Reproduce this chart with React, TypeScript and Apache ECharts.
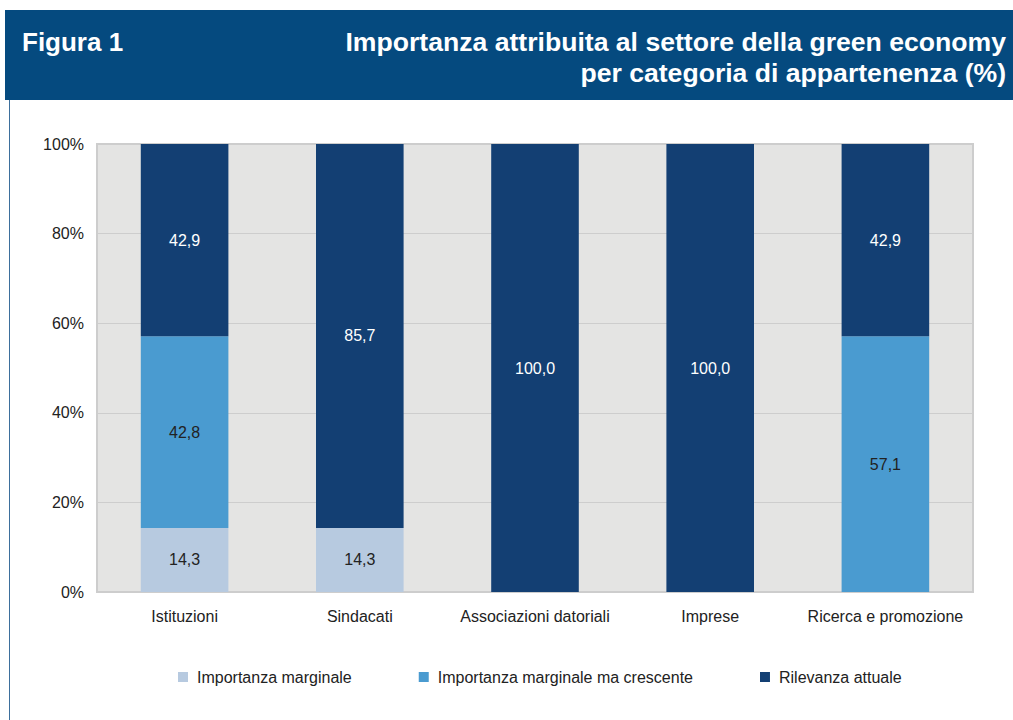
import React, { useEffect, useRef } from "react";
import * as echarts from "echarts";

const categories = ["Istituzioni", "Sindacati", "Associazioni datoriali", "Imprese", "Ricerca e promozione"];
const seriesNames = ["Importanza marginale", "Importanza marginale ma crescente", "Rilevanza attuale"];
const marginale = [14.3, 14.3, 0, 0, 0];
const crescente = [42.8, 0, 0, 0, 57.1];
const attuale = [42.9, 85.7, 100.0, 100.0, 42.9];
const yTicks = [0, 20, 40, 60, 80, 100];

const colors = ["#b7cae0", "#4a9bd0", "#133f73"];
const labelColors = ["#222222", "#222222", "#ffffff"];

export default function App() {
  const ref = useRef<HTMLDivElement>(null);
  useEffect(() => {
    const chart = echarts.init(ref.current!, null, { renderer: "svg" });
    const font = "'Liberation Sans', Arial, sans-serif";
    const headFont = "bold 26px 'Liberation Sans', Arial, sans-serif";
    const titleFont = "bold 26.6px 'Liberation Sans', Arial, sans-serif";
    const datasets = [marginale, crescente, attuale];
    chart.setOption({
      animation: false,
      textStyle: { fontFamily: font },
      graphic: [
        { type: "rect", shape: { x: 5, y: 10, width: 1008, height: 90 }, style: { fill: "#054a7f" } },
        { type: "line", shape: { x1: 9.5, y1: 100, x2: 9.5, y2: 720 }, style: { stroke: "#3d6f9c", lineWidth: 1 } },
        {
          type: "text", x: 22, y: 42,
          style: { text: "Figura 1", fill: "#ffffff", font: headFont, textVerticalAlign: "middle" },
        },
        {
          type: "text", x: 1006, y: 42,
          style: { text: "Importanza attribuita al settore della green economy", fill: "#ffffff", font: titleFont, textAlign: "right", textVerticalAlign: "middle" },
        },
        {
          type: "text", x: 1006, y: 73,
          style: { text: "per categoria di appartenenza (%)", fill: "#ffffff", font: titleFont, textAlign: "right", textVerticalAlign: "middle" },
        },
      ],
      grid: {
        left: 97, right: 40, top: 144, bottom: 128,
        show: true, backgroundColor: "#e4e4e3", borderColor: "#cdcdcd", borderWidth: 2,
      },
      legend: {
        data: seriesNames,
        left: 173, top: 664,
        itemWidth: 10, itemHeight: 10, itemGap: 67,
        icon: "rect",
        textStyle: { fontSize: 16, color: "#222222", fontFamily: font, padding: [0, 0, 0, 4] },
      },
      xAxis: {
        type: "category",
        data: categories,
        axisLine: { show: false },
        axisTick: { show: false },
        axisLabel: { fontSize: 16, color: "#222222", margin: 16, fontFamily: font, interval: 0 },
      },
      yAxis: {
        type: "value",
        min: 0, max: 100, interval: 20,
        axisLine: { show: false },
        axisTick: { show: false },
        splitLine: { lineStyle: { color: "#cdcdcd", width: 1 } },
        axisLabel: {
          fontSize: 16, color: "#222222", margin: 13, fontFamily: font,
          formatter: (v: number) => (yTicks.includes(v) ? v + "%" : ""),
        },
      },
      series: datasets.map((d, i) => ({
        name: seriesNames[i],
        type: "bar",
        stack: "total",
        barWidth: "50%",
        data: d,
        itemStyle: { color: colors[i] },
        label: {
          show: true,
          position: "inside",
          fontSize: 16,
          color: labelColors[i],
          fontFamily: font,
          formatter: (p: any) => (p.value > 0 ? Number(p.value).toFixed(1).replace(".", ",") : ""),
        },
      })),
    });
    return () => chart.dispose();
  }, []);
  return <div ref={ref} style={{ position: "absolute", left: 0, top: 0, width: 1013, height: 720 }} />;
}
